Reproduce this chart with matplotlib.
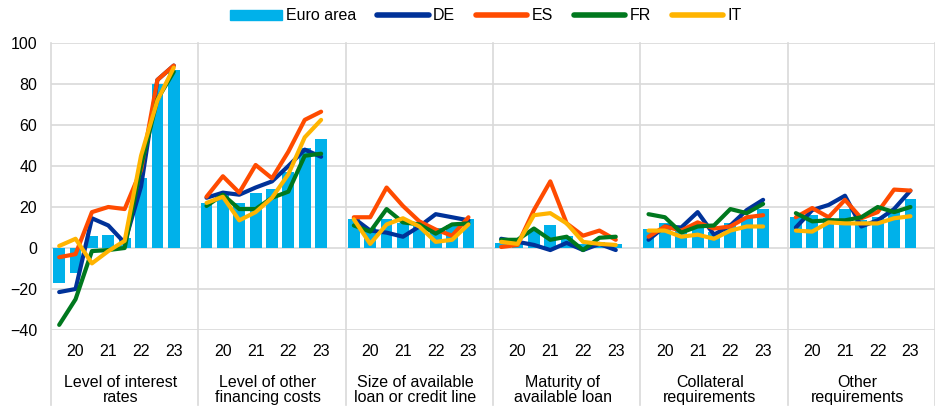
import numpy as np
import matplotlib
matplotlib.use("Agg")
import matplotlib.pyplot as plt
from matplotlib.lines import Line2D
from matplotlib.patches import Patch
import matplotlib.transforms as mtransforms

plt.rcParams["font.family"] = ["Liberation Sans", "DejaVu Sans"]

categories = [
    "Level of interest\nrates",
    "Level of other\nfinancing costs",
    "Size of available\nloan or credit line",
    "Maturity of\navailable loan",
    "Collateral\nrequirements",
    "Other\nrequirements",
]
period_labels = ["", "20", "", "21", "", "22", "", "23"]

euro_area = [
    [-17, -12, 6, 6.5, 5, 34, 80, 87],
    [22, 26, 22, 27, 29, 37, 49, 53],
    [14, 10, 14, 12, 12, 10, 11, 14],
    [2.5, 2, 9, 11, 6, 2, 3, 2],
    [9.5, 12, 9.5, 12, 8, 12, 15, 19],
    [15, 16, 14.5, 19, 13.5, 15, 19, 24],
]
de = [
    [-21.5, -20, 14.5, 11, 2.5, 30, 82, 89],
    [24.5, 27, 26, 29.5, 32.5, 40, 48, 44.5],
    [14.5, 8.5, 7.5, 5.5, 10.5, 16.5, 15, 13.5],
    [4.5, 3, 1.5, -1, 2.5, -1, 2, -1],
    [4, 10.5, 10, 17.5, 6.5, 11, 18.5, 23.5],
    [10, 18.5, 21, 25.5, 10.5, 13.5, 19, 28],
]
es = [
    [-4.5, -3, 17.5, 20, 19, 38, 82, 89],
    [25, 35, 27, 40.5, 34, 47, 62.5, 66.5],
    [15, 15, 29.5, 20.5, 13, 9, 6, 15],
    [0.5, 1.5, 18.5, 32.5, 12, 6, 8.5, 4],
    [5.5, 10.5, 8.5, 12.5, 9.5, 10.5, 15, 16],
    [15, 19.5, 15, 23.5, 14.5, 17.5, 28.5, 28],
]
fr = [
    [-37.5, -25, -1.5, -1, 0, 40, 72.5, 86],
    [20.5, 26, 19, 19, 24.5, 27.5, 45, 46],
    [11, 8, 19, 12.5, 11.5, 7, 11.5, 12],
    [4, 4, 9.5, 4, 5.5, -1, 5, 5.5],
    [16.5, 15, 7.5, 10.5, 11, 19, 17, 21.5],
    [17, 13, 13.5, 13.5, 15, 20, 17.5, 20],
]
it = [
    [1, 4.5, -7.5, -1.5, 3.5, 45, 72, 88],
    [22, 25, 13.5, 17.5, 24.5, 36, 54, 62.5],
    [14, 2, 11.5, 14.5, 10.5, 3, 4, 11.5],
    [3, 2, 16, 17, 12, 3, 2, 1.5],
    [8.5, 8.5, 5.5, 6.5, 4.5, 8.5, 10.5, 10.5],
    [8.5, 8, 12.5, 12, 12, 12, 14.5, 15.5],
]

series = [("DE", de, "#003299"), ("ES", es, "#FF4B00"),
          ("FR", fr, "#00781E"), ("IT", it, "#FFB400")]
bar_color = "#00B1EA"
grid_color = "#D9D9D9"

n_per = len(period_labels)
slot = n_per + 1  # one empty slot after each group

W, H = 935, 408
fig = plt.figure(figsize=(W / 100, H / 100), dpi=100)
ax_l, ax_r, ax_t, ax_b = 51, 935, 43, 330
ax = fig.add_axes([ax_l / W, 1 - ax_b / H, (ax_r - ax_l) / W, (ax_b - ax_t) / H])

for g in range(len(categories)):
    xs = g * slot + np.arange(n_per)
    ax.bar(xs, euro_area[g], width=0.72, color=bar_color, zorder=2)
    for name, data, col in series:
        ax.plot(xs, data[g], color=col, lw=3.0, solid_capstyle="round",
                solid_joinstyle="round", zorder=3)

ax.set_xlim(-0.5, len(categories) * slot - 0.5)
ax.set_ylim(-40, 100)
ax.set_yticks(np.arange(-40, 101, 20))
ax.yaxis.grid(True, color=grid_color, lw=1.2, zorder=0)
ax.set_axisbelow(True)
for s in ax.spines.values():
    s.set_visible(False)
ax.tick_params(axis="both", length=0, labelsize=11.5, colors="black")
ax.tick_params(axis="y", pad=10)

xt = [g * slot + i for g in range(len(categories)) for i in range(n_per)]
ax.set_xticks(xt)
ax.set_xticklabels(period_labels * len(categories))
ax.tick_params(axis="x", pad=10)

trans = mtransforms.blended_transform_factory(ax.transData, ax.transAxes)
bottom_ext = -(405 - ax_b) / (ax_b - ax_t)
for g in range(len(categories) + 1):
    x = g * slot - 0.5
    ax.add_line(Line2D([x, x], [bottom_ext, 1], transform=trans, color=grid_color,
                       lw=1.2, clip_on=False, zorder=1))
    if g < len(categories):
        ax.text(g * slot + (n_per - 1) / 2 + 0.25, -(390 - ax_b) / (ax_b - ax_t),
                categories[g], transform=trans, ha="center", va="center",
                fontsize=11.5, linespacing=1.05)

handles = [Patch(color=bar_color, label="Euro area")]
handles += [Line2D([], [], color=c, lw=4, solid_capstyle="round", label=n)
            for n, _, c in series]
fig.legend(handles=handles, loc="center", bbox_to_anchor=(486 / W, 1 - 16 / H),
           ncol=5, frameon=False, fontsize=11.5, handlelength=3.2,
           handleheight=0.55, handletextpad=0.25, columnspacing=1.35)

fig.savefig("out.png", dpi=100)
